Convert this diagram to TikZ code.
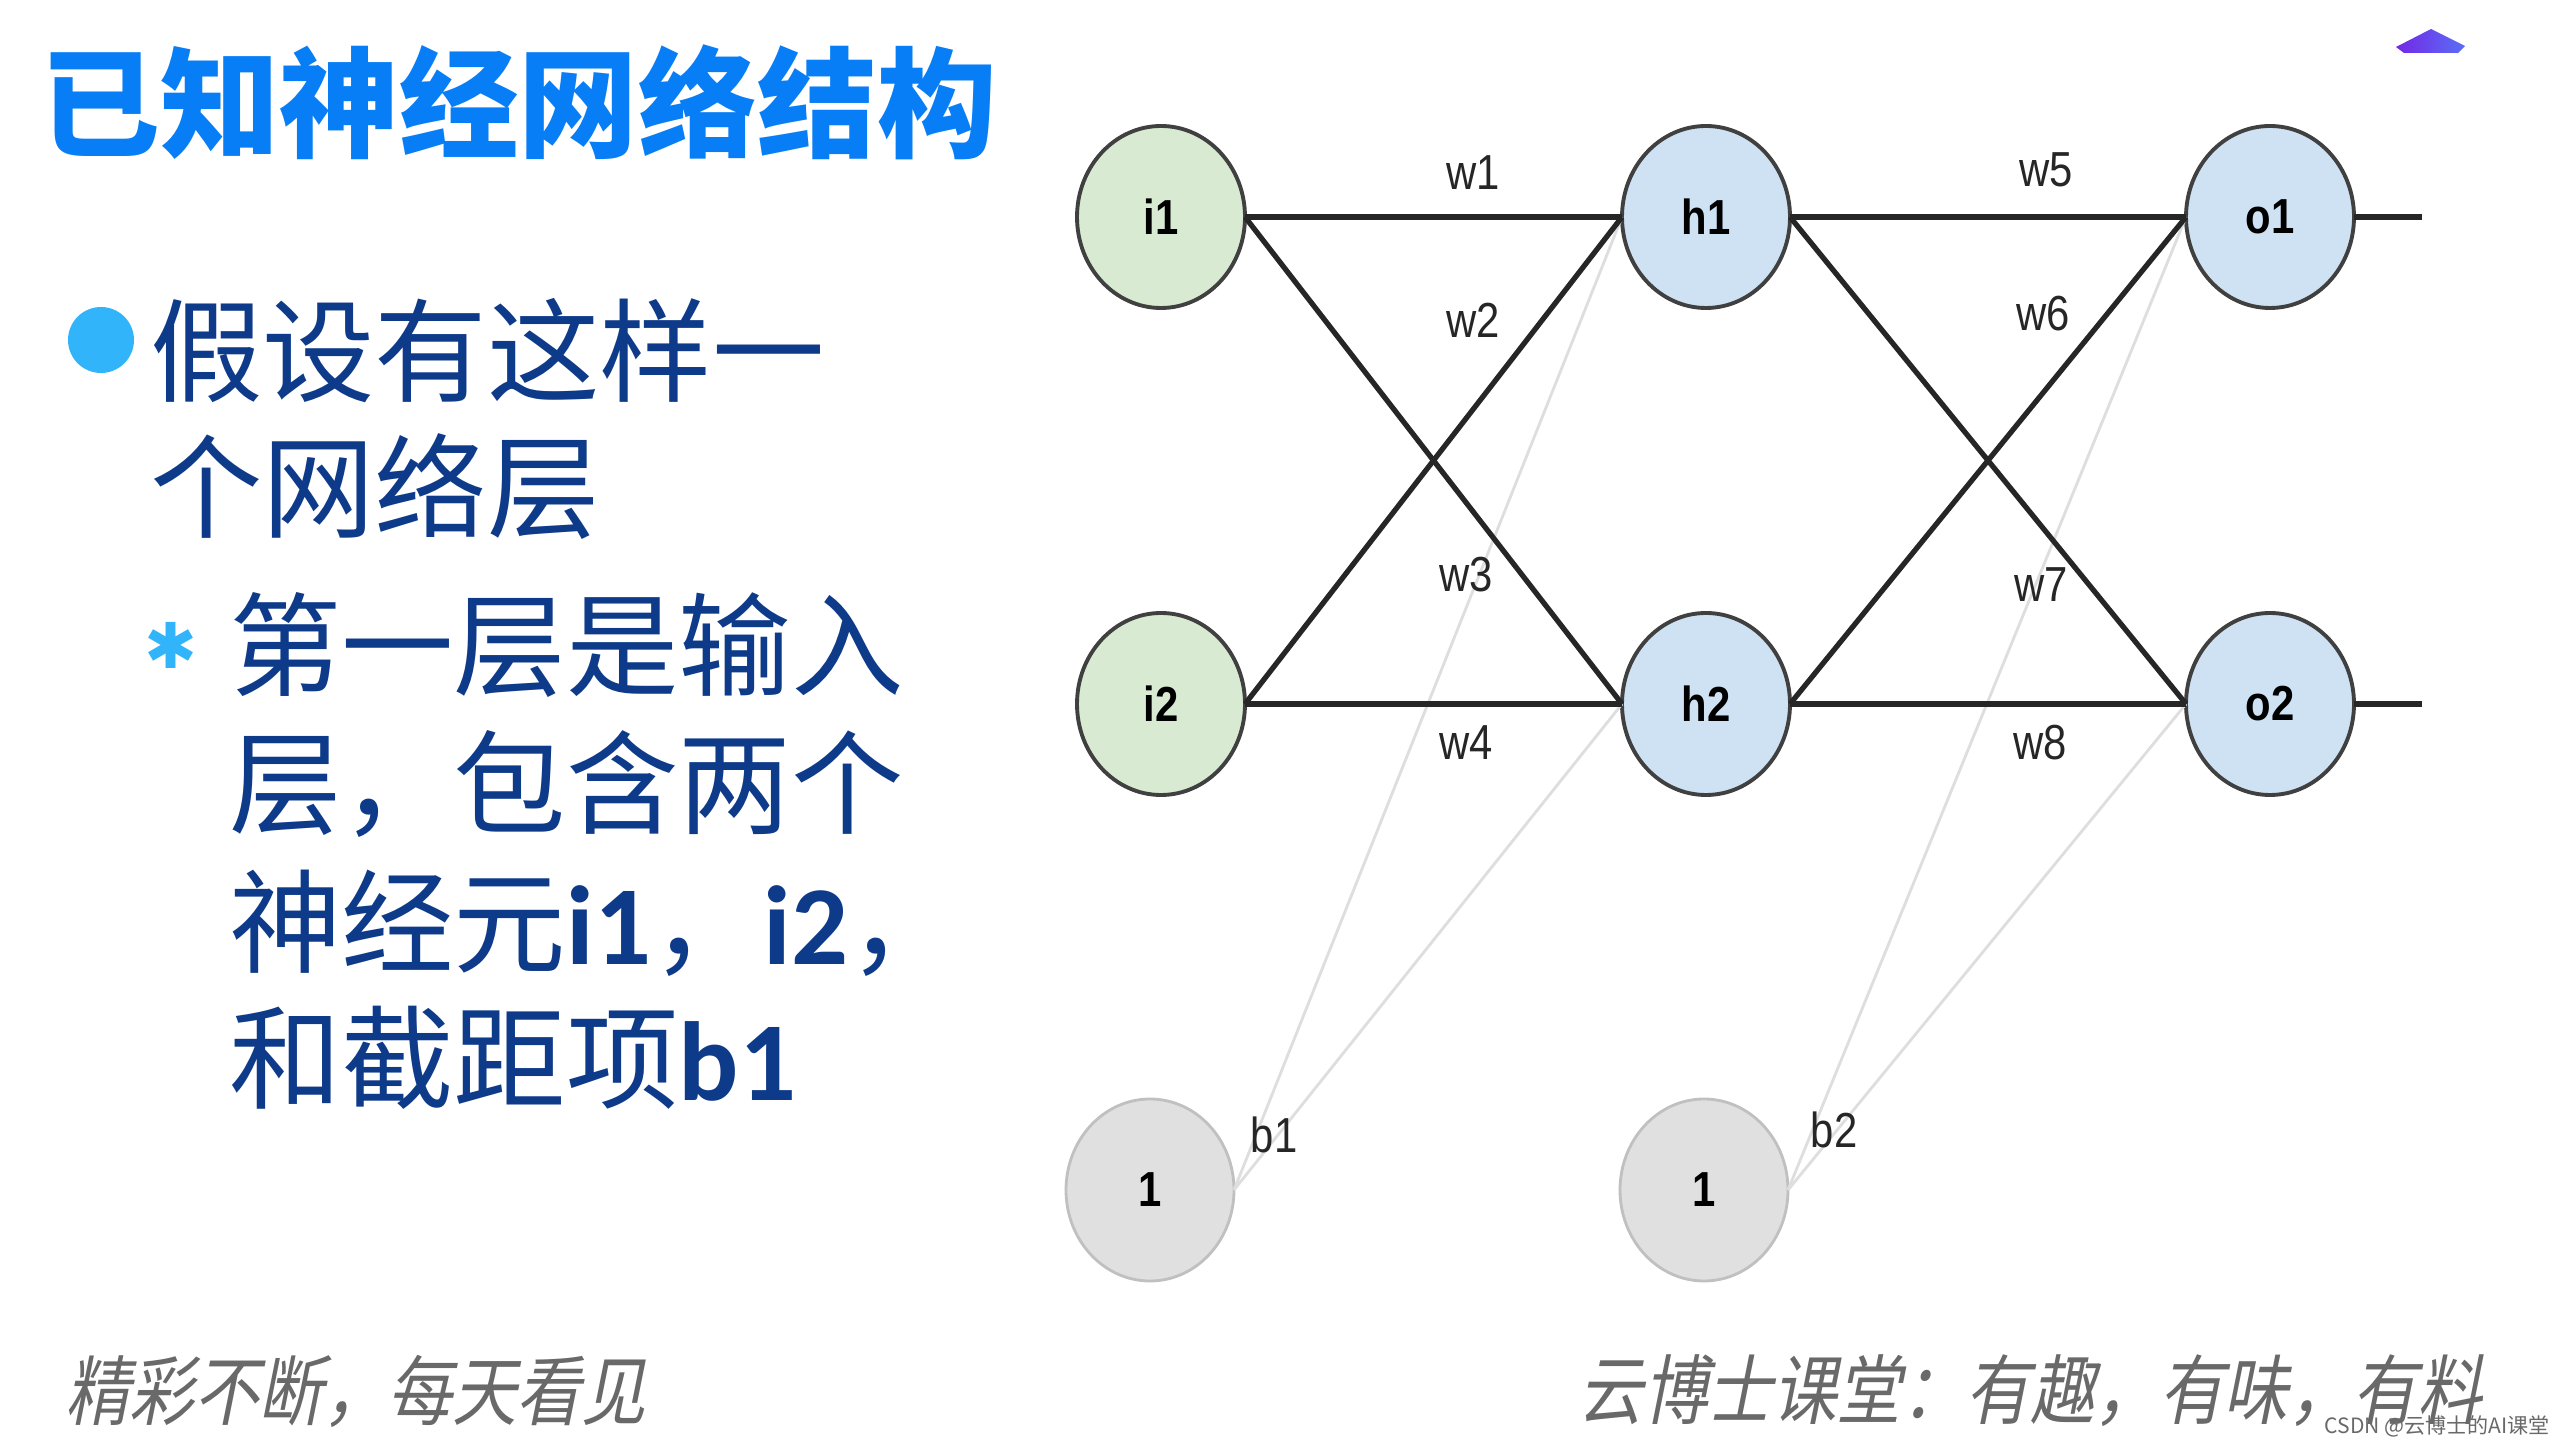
\documentclass[tikz,border=0pt]{standalone}
\usepackage{fontspec}
\usepackage{tikz}
\usetikzlibrary{shapes.geometric}
\newfontfamily\cjkfont{Noto Sans CJK SC}
\newfontfamily\latinbold{Carlito}
\newfontfamily\footfont[FakeSlant=0.2,FakeStretch=0.85]{Noto Sans CJK SC}
\newfontfamily\netfont[FakeStretch=0.85]{Liberation Sans}
\newfontfamily\symfont{DejaVu Sans}
\definecolor{titleblue}{RGB}{8,126,246}
\definecolor{bulletblue}{RGB}{50,180,250}
\definecolor{textnavy}{RGB}{14,58,138}
\definecolor{inputgreen}{RGB}{217,234,211}
\definecolor{hiddenblue}{RGB}{207,226,243}
\definecolor{biasgrey}{RGB}{224,224,224}
\definecolor{rimgrey}{RGB}{192,192,192}
\definecolor{edgegrey}{RGB}{222,222,222}
\definecolor{footgrey}{RGB}{105,105,105}
\definecolor{capviolet}{RGB}{115,40,230}
\definecolor{capblue}{RGB}{90,110,245}
\newcommand{\lat}[1]{{\latinbold\bfseries #1}}
\tikzset{
  base/.style={inner sep=0pt, outer sep=0pt},
  title/.style={base, font=\cjkfont\fontsize{34}{40}\selectfont\bfseries, text=titleblue},
  para/.style={base, font=\cjkfont\fontsize{32}{38}\selectfont, text=textnavy},
  neuron/.style={base, ellipse, draw=black!75, line width=1.1pt, minimum width=1.68cm, minimum height=1.82cm,
    font=\netfont\fontsize{14}{16}\selectfont\bfseries},
  inputnode/.style={neuron, fill=inputgreen},
  hiddennode/.style={neuron, fill=hiddenblue},
  biasnode/.style={neuron, draw=rimgrey, fill=biasgrey, line width=0.8pt},
  wire/.style={line width=1.5pt, draw=black!85},
  biaswire/.style={line width=0.8pt, draw=edgegrey},
  wlbl/.style={base, font=\netfont\fontsize{14}{16}\selectfont, text=black!85},
  foot/.style={base, font=\footfont\fontsize{21.6}{25}\selectfont, text=footgrey},
  wmark/.style={base, font=\cjkfont\fontsize{6}{7}\selectfont, text=footgrey},
}

\begin{document}
\begin{tikzpicture}[x=0.1mm,y=-0.1mm]
  \fill[white] (0,0) rectangle (2560,1440);
  \useasboundingbox (0,0) rectangle (2560,1440);
  % heading and bullets
  \node[title,anchor=west] (head) at (41,102) {已知神经网络结构};
  \fill[bulletblue] (101,340) circle (3.3mm);
  \node[para,anchor=west] (p1) at (150,351) {假设有这样一};
  \node[para,anchor=west] (p2) at (150,487) {个网络层};
  \node[base,font=\symfont\fontsize{18}{20}\selectfont,text=bulletblue] (star) at (171,645) {✱};
  \node[para,anchor=west] (s1) at (229,645) {第一层是输入};
  \node[para,anchor=west] (s2) at (229,784) {层，包含两个};
  \node[para,anchor=west] (s3) at (229,923) {神经元\lat{i1}，\lat{i2}，};
  \node[para,anchor=west] (s4) at (229,1058) {和截距项\lat{b1}};
  % cap icon
  \shade[left color=capviolet,right color=capblue] (2396,47) -- (2431,29) -- (2465,46) -- (2458,53) -- (2404,53) -- cycle;
  % neurons
  \node[inputnode] (i1) at (1161,217) {i1};
  \node[inputnode] (i2) at (1161,704) {i2};
  \node[hiddennode] (h1) at (1706,217) {h1};
  \node[hiddennode] (h2) at (1706,704) {h2};
  \node[hiddennode] (o1) at (2270,217) {o1};
  \node[hiddennode] (o2) at (2270,704) {o2};
  \node[biasnode] (b1) at (1150,1190) {1};
  \node[biasnode] (b2) at (1704,1190) {1};
  \coordinate (out1) at (2422,217);
  \coordinate (out2) at (2422,704);
  % bias links
  \draw[biaswire] (b1.east) -- (h1.west);
  \draw[biaswire] (b1.east) -- (h2.west);
  \draw[biaswire] (b2.east) -- (o1.west);
  \draw[biaswire] (b2.east) -- (o2.west);
  % weights
  \draw[wire] (i1.east) -- (h1.west);
  \draw[wire] (i1.east) -- (h2.west);
  \draw[wire] (i2.east) -- (h1.west);
  \draw[wire] (i2.east) -- (h2.west);
  \draw[wire] (h1.east) -- (o1.west);
  \draw[wire] (h1.east) -- (o2.west);
  \draw[wire] (h2.east) -- (o1.west);
  \draw[wire] (h2.east) -- (o2.west);
  \draw[wire] (o1.east) -- (out1);
  \draw[wire] (o2.east) -- (out2);
  \foreach \n/\x/\y in {w1/1473/173,w2/1473/320,w3/1466/575,w4/1466/743,
                        w5/2046/170,w6/2043/314,w7/2041/585,w8/2040/743,
                        b1/1274/1135,b2/1834/1130}{
    \node[wlbl] (l\n) at (\x,\y) {\n};
  }
  % footer
  \node[foot,anchor=west] (footl) at (65,1391) {精彩不断，每天看见};
  \node[foot,anchor=east] (footr) at (2482,1391) {云博士课堂：有趣，有味，有料};
  \node[wmark,anchor=east] (csdn) at (2550,1426) {CSDN @云博士的AI课堂};
\end{tikzpicture}
\end{document}
